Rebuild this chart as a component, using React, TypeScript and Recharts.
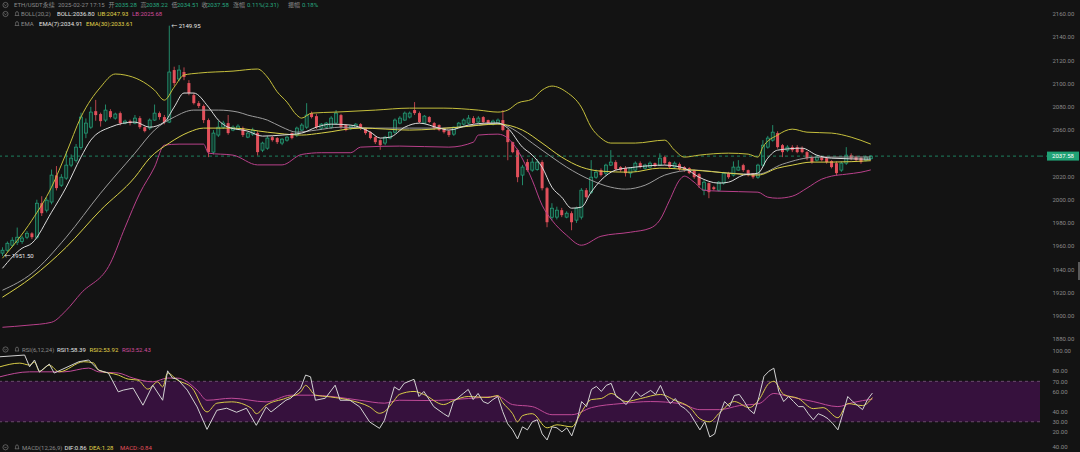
import React from 'react';
import { ComposedChart, Bar, Line, XAxis, YAxis, ReferenceLine, ReferenceArea, ReferenceDot } from 'recharts';

// ---------- DATA ----------
// candles: [open, high, low, close]
const candles: [number, number, number, number][] = [
  [1954.0, 1959.0, 1951.5, 1956.5], [1956.5, 1964.0, 1955.0, 1962.5], [1960.8, 1967.7, 1959.0, 1965.1], [1963.4, 1976.0, 1961.0, 1967.7],
  [1964.0, 1969.0, 1962.0, 1967.0], [1967.7, 1973.0, 1966.0, 1971.1], [1971.0, 1972.0, 1966.0, 1967.7], [1967.7, 2000.0, 1966.0, 1997.0],
  [1997.0, 2003.0, 1986.0, 1988.4], [1991.0, 2002.0, 1989.0, 1999.6], [1998.0, 2026.0, 1996.0, 2021.2], [2021.0, 2029.0, 2008.0, 2010.0],
  [2012.5, 2022.0, 2011.0, 2019.4], [2018.6, 2042.0, 2017.0, 2029.8], [2029.8, 2039.0, 2028.0, 2035.8], [2034.0, 2048.0, 2032.0, 2045.3],
  [2045.0, 2075.0, 2043.0, 2071.2], [2057.4, 2070.0, 2053.0, 2066.0], [2062.5, 2080.0, 2061.0, 2075.5], [2076.3, 2086.0, 2068.0, 2072.9],
  [2073.8, 2075.0, 2063.0, 2067.7], [2068.6, 2082.0, 2067.0, 2077.2], [2076.3, 2078.0, 2070.0, 2071.2], [2070.3, 2075.0, 2069.0, 2073.8],
  [2074.6, 2076.0, 2064.0, 2066.0], [2066.0, 2069.0, 2065.0, 2067.7], [2067.7, 2069.0, 2064.0, 2066.0], [2066.0, 2073.0, 2065.0, 2070.3],
  [2070.3, 2072.0, 2061.0, 2062.5], [2062.5, 2063.0, 2058.0, 2059.1], [2061.7, 2070.0, 2060.0, 2068.6], [2068.6, 2082.0, 2068.0, 2074.6],
  [2074.6, 2076.0, 2069.0, 2071.2], [2071.2, 2073.0, 2065.0, 2066.9], [2066.9, 2149.95, 2066.0, 2110.0], [2111.7, 2114.6, 2098.0, 2100.5],
  [2104.0, 2116.0, 2102.0, 2111.7], [2110.0, 2114.0, 2103.0, 2105.7], [2100.5, 2103.0, 2090.0, 2091.9], [2090.1, 2092.0, 2082.0, 2083.2],
  [2083.2, 2085.0, 2079.0, 2080.7], [2080.7, 2082.0, 2066.0, 2068.6], [2068.6, 2070.0, 2036.7, 2041.0], [2041.0, 2060.0, 2039.0, 2057.4],
  [2055.7, 2068.0, 2054.0, 2062.5], [2062.5, 2068.0, 2061.0, 2066.0], [2066.0, 2073.0, 2056.0, 2057.4], [2060.0, 2064.0, 2059.0, 2062.5],
  [2060.8, 2065.0, 2060.0, 2063.4], [2061.7, 2063.0, 2054.0, 2055.7], [2053.9, 2059.0, 2053.0, 2057.4], [2056.5, 2062.0, 2055.0, 2060.0],
  [2057.4, 2059.0, 2038.0, 2041.0], [2042.7, 2050.0, 2041.0, 2048.8], [2044.4, 2055.0, 2043.0, 2053.1], [2053.9, 2055.0, 2050.0, 2051.3],
  [2053.1, 2054.0, 2048.0, 2049.6], [2048.8, 2053.0, 2047.0, 2052.2], [2051.3, 2055.0, 2050.0, 2053.9], [2057.4, 2058.0, 2052.0, 2053.1],
  [2055.7, 2063.0, 2054.0, 2061.7], [2060.0, 2066.0, 2059.0, 2064.3], [2062.5, 2083.2, 2061.0, 2072.9], [2074.6, 2076.0, 2070.0, 2071.2],
  [2072.0, 2074.0, 2061.0, 2062.5], [2061.7, 2066.0, 2060.0, 2065.1], [2062.5, 2067.0, 2061.0, 2066.0], [2062.5, 2072.0, 2061.0, 2070.3],
  [2066.0, 2077.2, 2065.0, 2074.6], [2072.9, 2074.0, 2061.0, 2062.5], [2064.3, 2065.0, 2059.0, 2060.0], [2061.7, 2064.0, 2060.0, 2063.4],
  [2061.7, 2066.0, 2061.0, 2065.1], [2065.1, 2066.0, 2060.0, 2061.7], [2061.7, 2062.0, 2056.0, 2057.4], [2058.2, 2059.0, 2052.0, 2053.1],
  [2053.9, 2055.0, 2048.0, 2049.6], [2051.3, 2052.0, 2043.0, 2047.0], [2048.8, 2055.0, 2047.0, 2053.9], [2053.1, 2059.0, 2052.0, 2058.2],
  [2058.2, 2070.0, 2057.0, 2068.6], [2066.0, 2072.0, 2065.0, 2070.3], [2068.6, 2076.0, 2068.0, 2074.6], [2071.2, 2076.0, 2070.0, 2074.6],
  [2077.2, 2084.1, 2073.0, 2074.6], [2074.6, 2076.0, 2066.0, 2066.9], [2066.0, 2073.0, 2065.0, 2072.0], [2071.2, 2072.0, 2066.0, 2066.9],
  [2066.0, 2067.0, 2060.0, 2061.7], [2064.3, 2065.0, 2059.0, 2060.0], [2061.7, 2062.0, 2057.0, 2058.2], [2059.1, 2060.0, 2054.0, 2055.7],
  [2056.5, 2063.0, 2055.0, 2062.5], [2062.5, 2067.0, 2062.0, 2066.0], [2065.1, 2070.0, 2064.0, 2068.6], [2066.0, 2073.0, 2065.0, 2070.3],
  [2070.3, 2072.0, 2065.0, 2066.0], [2066.9, 2072.0, 2066.0, 2070.3], [2071.2, 2072.0, 2065.0, 2066.9], [2068.6, 2069.0, 2065.0, 2066.0],
  [2065.1, 2069.0, 2064.0, 2067.7], [2066.0, 2070.0, 2065.0, 2068.6], [2068.6, 2077.2, 2059.0, 2060.0], [2060.0, 2061.0, 2034.0, 2049.6],
  [2049.6, 2050.0, 2040.0, 2041.0], [2042.7, 2044.0, 2015.1, 2019.4], [2021.2, 2030.0, 2012.5, 2028.1], [2032.4, 2035.0, 2024.0, 2025.5],
  [2025.5, 2036.0, 2024.0, 2032.4], [2026.0, 2035.0, 2025.0, 2032.4], [2032.4, 2034.0, 2008.0, 2009.9], [2009.9, 2011.0, 1976.3, 1980.6],
  [1984.9, 1997.0, 1982.0, 1992.7], [1985.0, 1994.0, 1983.0, 1991.0], [1991.0, 1993.0, 1985.0, 1986.7], [1985.0, 1990.0, 1984.0, 1988.4],
  [1988.4, 1990.0, 1973.7, 1980.6], [1982.4, 1994.0, 1980.0, 1992.7], [1985.0, 2010.0, 1983.0, 2008.2], [2008.2, 2010.0, 2001.0, 2002.2],
  [2006.5, 2034.1, 2005.0, 2019.4], [2019.4, 2026.0, 2018.0, 2023.7], [2025.5, 2027.0, 2020.0, 2021.2], [2022.9, 2031.0, 2021.0, 2029.8],
  [2029.8, 2042.7, 2029.0, 2032.4], [2032.4, 2034.0, 2025.0, 2026.3], [2028.1, 2029.0, 2024.0, 2025.5], [2027.2, 2029.0, 2020.0, 2022.9],
  [2022.9, 2028.0, 2019.0, 2027.2], [2025.5, 2033.0, 2024.0, 2031.5], [2031.5, 2033.0, 2027.0, 2028.1], [2027.2, 2031.0, 2026.0, 2029.8],
  [2028.1, 2033.0, 2027.0, 2031.5], [2031.5, 2032.0, 2028.0, 2029.0], [2029.8, 2040.0, 2029.0, 2035.8], [2036.7, 2038.0, 2030.0, 2031.5],
  [2032.4, 2033.0, 2027.0, 2028.1], [2028.1, 2033.0, 2027.0, 2031.5], [2030.6, 2032.0, 2025.0, 2026.3], [2028.1, 2029.0, 2024.0, 2025.5],
  [2027.2, 2028.0, 2022.0, 2022.9], [2025.5, 2026.0, 2018.0, 2019.4], [2022.0, 2023.0, 2010.0, 2012.5], [2008.2, 2017.0, 2003.9, 2015.1],
  [2014.3, 2015.0, 2001.3, 2006.5], [2010.8, 2012.0, 2008.0, 2009.1], [2008.2, 2016.0, 2007.0, 2015.1], [2014.3, 2024.0, 2013.0, 2022.9],
  [2022.9, 2024.0, 2018.0, 2019.4], [2021.2, 2033.0, 2020.0, 2028.1], [2025.5, 2034.1, 2025.0, 2028.1], [2029.8, 2031.0, 2024.0, 2025.5],
  [2025.5, 2026.0, 2020.0, 2021.2], [2022.9, 2023.0, 2018.0, 2019.4], [2019.4, 2031.0, 2018.0, 2029.8], [2029.8, 2051.3, 2028.0, 2047.0],
  [2045.3, 2055.0, 2044.0, 2053.1], [2051.3, 2064.3, 2050.0, 2058.2], [2057.4, 2059.0, 2044.0, 2045.3], [2047.0, 2048.0, 2036.7, 2041.0],
  [2042.7, 2047.0, 2041.0, 2045.3], [2045.3, 2047.0, 2041.0, 2042.7], [2045.3, 2047.0, 2040.0, 2041.0], [2044.4, 2046.0, 2040.0, 2041.0],
  [2041.0, 2042.0, 2034.0, 2035.8], [2036.7, 2038.0, 2031.0, 2032.4], [2034.1, 2038.0, 2033.0, 2036.7], [2036.7, 2038.0, 2033.0, 2034.1],
  [2035.8, 2037.0, 2031.0, 2032.4], [2033.3, 2034.0, 2027.0, 2028.1], [2031.5, 2033.0, 2021.0, 2022.9], [2025.5, 2033.0, 2024.0, 2031.5],
  [2031.5, 2045.3, 2030.0, 2038.4], [2038.4, 2040.0, 2034.0, 2035.8], [2036.7, 2038.0, 2033.0, 2034.1], [2035.8, 2037.0, 2031.0, 2032.4],
  [2034.1, 2038.0, 2033.0, 2036.7], [2035.28, 2038.22, 2034.51, 2037.58],
];

// indicator readings: [candle index, value]
const bollUpper: [number, number][] = [
  [0, 1949.6], [6, 1982.3], [10, 2010.8], [13, 2040.1], [16, 2071.2], [20, 2097.0], [23, 2108.3], [25, 2107.4], [28, 2103.1],
  [31, 2094.4], [33, 2085.8], [35, 2097.0], [37, 2107.4], [40, 2109.1], [47, 2110.8], [52, 2112.6], [54, 2105.7], [56, 2093.0],
  [58, 2084.1], [60, 2072.9], [61, 2070.3], [63, 2074.6], [68, 2075.5], [76, 2077.2], [83, 2078.9], [90, 2078.9], [97, 2077.2],
  [101, 2075.5], [103, 2077.2], [105, 2083.2], [108, 2086.7], [110, 2094.4], [112, 2097.9], [115, 2092.7], [118, 2079.8],
  [120, 2062.5], [122, 2053.1], [124, 2048.8], [129, 2048.8], [135, 2051.3], [137, 2042.7], [139, 2036.7], [142, 2038.4],
  [148, 2040.1], [152, 2039.3], [154, 2036.7], [155, 2045.3], [158, 2055.7], [161, 2060.8], [164, 2058.2], [169, 2057.4],
  [173, 2053.9], [177, 2047.93],
];
const bollLower: [number, number][] = [
  [0, 1890.1], [5, 1891.8], [10, 1894.4], [13, 1904.7], [16, 1919.4], [22, 1945.3], [25, 1976.3], [28, 2005.6], [31, 2028.1],
  [33, 2047.0], [36, 2047.9], [41, 2047.9], [42, 2040.1], [47, 2038.4], [52, 2030.0], [57, 2030.0], [61, 2039.0], [65, 2040.5],
  [71, 2040.5], [73, 2045.3], [81, 2046.2], [91, 2045.3], [96, 2049.6], [97, 2055.7], [101, 2056.5], [103, 2053.1], [105, 2042.7],
  [108, 2016.8], [110, 1995.3], [112, 1982.4], [115, 1969.4], [118, 1960.8], [122, 1968.5], [128, 1972.0], [132, 1975.4],
  [134, 1982.4], [136, 1999.6], [138, 2016.8], [139, 2020.3], [141, 2015.1], [143, 2008.2], [146, 2007.4], [154, 2006.5],
  [156, 2002.2], [158, 2001.3], [161, 2003.0], [164, 2010.0], [167, 2017.7], [169, 2020.3], [172, 2022.0], [175, 2023.7],
  [177, 2025.68],
];
const bollMid: [number, number][] = [
  [0, 1922.0], [6, 1936.6], [13, 1967.7], [20, 2005.6], [27, 2040.1], [31, 2060.0], [35, 2071.2], [39, 2077.2], [44, 2077.2],
  [48, 2075.5], [50, 2072.9], [54, 2068.6], [57, 2062.5], [60, 2058.2], [64, 2060.0], [69, 2062.5], [76, 2061.7], [83, 2061.7],
  [90, 2061.7], [97, 2064.3], [101, 2066.0], [104, 2061.0], [108, 2048.8], [112, 2036.7], [115, 2028.1], [120, 2016.8],
  [124, 2010.8], [127, 2009.1], [131, 2012.5], [135, 2021.2], [141, 2025.5], [148, 2022.9], [154, 2022.0], [159, 2030.6],
  [166, 2036.7], [177, 2036.8],
];
const ema7: [number, number][] = [
  [0, 1940.9], [4, 1958.2], [6, 1962.5], [10, 1989.2], [13, 2010.8], [16, 2036.7], [18, 2051.3], [22, 2062.5], [27, 2066.9],
  [30, 2062.5], [33, 2066.9], [35, 2079.8], [37, 2091.9], [39, 2091.9], [42, 2079.8], [44, 2068.6], [46, 2062.5], [50, 2059.1],
  [53, 2054.8], [57, 2055.7], [61, 2057.4], [64, 2062.5], [67, 2065.1], [71, 2064.3], [75, 2058.2], [77, 2053.1], [79, 2053.9],
  [82, 2062.5], [85, 2066.0], [89, 2061.7], [91, 2060.0], [95, 2064.3], [99, 2066.0], [101, 2066.0], [103, 2061.7], [106, 2045.3],
  [108, 2038.4], [110, 2028.1], [112, 2010.8], [114, 2002.2], [116, 1992.7], [118, 1993.6], [120, 2006.5], [122, 2016.8],
  [125, 2025.5], [129, 2028.1], [135, 2029.8], [139, 2027.2], [142, 2019.4], [146, 2014.3], [148, 2015.1], [151, 2021.2],
  [154, 2022.9], [156, 2035.8], [158, 2042.7], [163, 2044.4], [166, 2038.4], [169, 2035.8], [177, 2034.91],
];
const ema30: [number, number][] = [
  [0, 1916.0], [6, 1933.2], [13, 1959.1], [20, 1991.0], [27, 2019.4], [30, 2035.8], [34, 2048.8], [38, 2058.2], [41, 2061.7],
  [47, 2061.7], [54, 2058.2], [61, 2055.7], [65, 2057.4], [73, 2061.7], [83, 2060.0], [93, 2062.5], [101, 2065.1], [106, 2060.0],
  [110, 2048.8], [114, 2036.7], [118, 2028.1], [122, 2024.6], [128, 2023.7], [134, 2027.2], [141, 2025.5], [148, 2022.9],
  [154, 2021.2], [158, 2027.2], [161, 2029.8], [165, 2032.4], [169, 2032.4], [177, 2033.61],
];
const rsi1: [number, number][] = [
  [0, 94.3], [5, 96.0], [6, 84.4], [7, 91.1], [8, 79.1], [10, 87.1], [11, 78.2], [16, 89.4], [18, 91.1], [20, 81.1], [22, 78.2],
  [24, 59.6], [25, 61.3], [27, 63.3], [29, 46.4], [31, 66.2], [33, 51.3], [34, 80.4], [35, 73.2], [36, 72.2], [38, 61.3], [40, 44.7],
  [42, 22.5], [44, 41.4], [46, 43.4], [48, 39.4], [50, 43.4], [52, 26.5], [54, 44.7], [55, 39.7], [58, 51.3], [59, 53.3], [61, 63.3],
  [62, 76.2], [63, 74.5], [64, 51.3], [66, 53.3], [68, 66.2], [69, 51.3], [71, 51.3], [73, 44.7], [75, 29.8], [77, 23.5], [78, 31.5],
  [80, 64.5], [81, 61.3], [82, 68], [84, 72], [85, 55], [86, 60], [88, 45], [90, 38], [91, 35], [92, 50], [94, 58], [95, 62], [96, 52],
  [97, 58], [98, 50], [99, 48], [100, 52], [101, 55], [102, 40], [103, 28], [104, 22], [105, 13], [106, 25], [107, 22], [108, 30],
  [109, 32], [110, 18], [111, 12], [112, 25], [113, 24], [114, 20], [115, 24], [116, 16], [117, 30], [118, 50], [119, 45], [120, 62],
  [121, 65], [122, 60], [123, 66], [124, 68], [125, 55], [126, 52], [127, 47], [128, 53], [129, 60], [130, 55], [131, 58], [132, 61],
  [133, 57], [134, 66], [135, 55], [136, 48], [137, 53], [138, 46], [139, 43], [140, 38], [141, 30], [142, 22], [143, 30], [144, 15],
  [145, 18], [146, 37], [147, 50], [148, 45], [149, 56], [150, 57], [151, 50], [152, 42], [153, 38], [154, 55], [155, 75], [156, 80],
  [157, 83], [158, 60], [159, 50], [160, 55], [161, 50], [162, 45], [163, 45], [164, 38], [165, 32], [166, 38], [167, 36], [168, 33],
  [169, 28], [170, 22], [171, 38], [172, 55], [173, 50], [174, 46], [175, 42], [176, 52], [177, 58.39],
];
const rsi2: [number, number][] = [
  [0, 84.4], [4, 88.0], [6, 86.1], [7, 89.0], [8, 80.0], [10, 86.0], [12, 79.4], [17, 89.4], [19, 88.1], [20, 81.1], [24, 76.2],
  [26, 72.2], [28, 71.2], [30, 62.3], [32, 69.5], [33, 64.5], [34, 78.2], [36, 71.2], [39, 63.3], [42, 39.7], [44, 48.4], [47, 49.7],
  [51, 43.4], [52, 38], [54, 46.4], [58, 53.3], [61, 59.6], [62, 66], [64, 56.3], [67, 54.6], [71, 51.3], [75, 44.7], [77, 38.4],
  [78, 40], [80, 51.3], [81, 57], [84, 60], [86, 57], [90, 47], [92, 51], [95, 55], [99, 54], [101, 56], [102, 49], [104, 38],
  [105, 30], [106, 36], [108, 38], [111, 24], [113, 27], [116, 25], [118, 40], [120, 52], [122, 53], [124, 58], [127, 50], [130, 53],
  [134, 57], [137, 51], [140, 44], [142, 33], [144, 30], [146, 39], [149, 50], [152, 44], [154, 52], [156, 68], [157, 70], [159, 57],
  [162, 53], [165, 43], [167, 44], [170, 34], [172, 48], [175, 46], [177, 53.92],
];
const rsi3: [number, number][] = [
  [0, 74.5], [6, 79.4], [13, 79.4], [18, 83.1], [20, 79.4], [24, 78.2], [27, 73.2], [31, 69.5], [34, 73.2], [36, 73.2], [40, 61.3],
  [42, 51.3], [47, 53.3], [54, 49.7], [59, 56.3], [63, 56.3], [68, 54.6], [73, 51.3], [78, 48.4], [81, 51.3], [87, 51], [95, 53],
  [101, 55], [104, 47], [108, 45], [112, 37], [116, 37], [120, 44], [126, 48], [132, 50], [138, 48], [142, 42], [146, 42], [150, 46],
  [154, 48], [157, 58], [160, 55], [165, 50], [170, 45], [173, 49], [177, 52.43],
];

// 2040 is hidden behind the last-price tag in the reference
const priceTicks = [1880, 1900, 1920, 1940, 1960, 1980, 2000, 2020, 2060, 2080, 2100, 2120, 2140, 2160];
const rsiTicks = [20, 30, 40, 60, 70, 80, 100];
const lastPrice = 2037.58;
const highMark = 2149.95;
const lowMark = 1951.5;
const SLOTS = 212;

// ---------- STYLE ----------
const BG = '#131313';
const UP = '#27a77f';
const DOWN = '#e2505b';
const GRAY = '#8a8a8a';
const WHITE = '#e4e4e4';
const YELLOW = '#e0d34a';
const MAGENTA = '#d04c9c';
const FONT = "Roboto, 'Noto Sans CJK SC', sans-serif";

const toMap = (pts: [number, number][]) => new Map(pts.map(([i, v]) => [i, v] as [number, number]));
const mUb = toMap(bollUpper), mLb = toMap(bollLower), mMid = toMap(bollMid), mE7 = toMap(ema7), mE30 = toMap(ema30);
const mR1 = toMap(rsi1), mR2 = toMap(rsi2), mR3 = toMap(rsi3);

const priceData = Array.from({ length: SLOTS }, (_, i) => {
  const k = candles[i];
  return {
    i,
    o: k ? k[0] : undefined,
    h: k ? k[1] : undefined,
    l: k ? k[2] : undefined,
    c: k ? k[3] : undefined,
    range: k ? [k[2], k[1]] : undefined,
    ub: mUb.get(i), lb: mLb.get(i), mid: mMid.get(i), e7: mE7.get(i), e30: mE30.get(i),
  };
});
const rsiData = Array.from({ length: SLOTS }, (_, i) => ({ i, r1: mR1.get(i), r2: mR2.get(i), r3: mR3.get(i) }));

function CandleShape(props: any) {
  const { x, y, width, height, payload } = props;
  if (!payload || payload.o == null || x == null || y == null) return null;
  const { o, h, l, c } = payload;
  const top = height < 0 ? y + height : y;
  const hh = Math.abs(height);
  const span = h - l;
  const k = span > 0 ? hh / span : 0;
  const yO = top + (h - o) * k;
  const yC = top + (h - c) * k;
  const up = c >= o;
  const color = up ? UP : DOWN;
  const bTop = Math.min(yO, yC);
  const bH = Math.max(Math.abs(yO - yC), 0.9);
  const cx = x + width / 2;
  return (
    <g>
      <line x1={cx} x2={cx} y1={top} y2={top + hh} stroke={color} strokeWidth={0.8} />
      <rect x={x} y={bTop} width={width} height={bH} fill={up ? '#12352a' : color} stroke={up ? color : 'none'} strokeWidth={0.7} />
    </g>
  );
}

const AxisTick = (props: any) => {
  const { x, y, payload } = props;
  return (
    <text x={x + 12.5} y={y} dy={2.2} fill={GRAY} fontSize={6} fontFamily={FONT} textAnchor="start">
      {Number(payload.value).toFixed(2)}
    </text>
  );
};

const PriceTag = (props: any) => {
  const vb = props.viewBox || {};
  const x = (vb.x || 0) + (vb.width || 0);
  const y = vb.y || 0;
  return (
    <g>
      <line x1={x} x2={x + 7} y1={y} y2={y} stroke="#1f9d72" strokeDasharray="3 3" strokeWidth={0.8} />
      <rect x={x + 7} y={y - 4.5} width={32} height={9} fill="#20a275" />
      <text x={x + 23} y={y} dy={2.2} fill="#ffffff" fontSize={6} fontFamily={FONT} textAnchor="middle">{lastPrice.toFixed(2)}</text>
    </g>
  );
};

const markLabel = (text: string) => (props: any) => {
  const vb = props.viewBox || {};
  const x = vb.cx != null ? vb.cx : (vb.x || 0);
  const y = vb.cy != null ? vb.cy : (vb.y || 0);
  return (
    <text x={x + 2} y={y} dy={2.2} fill="#e8e8e8" fontSize={6} fontFamily={FONT} textAnchor="start">{text}</text>
  );
};

function Icon({ x, y }: { x: number; y: number }) {
  return (
    <g stroke={GRAY} strokeWidth={0.6} fill="none">
      <circle cx={x} cy={y} r={2.6} />
      <path d={`M${x - 1.2} ${y - 0.5} L${x} ${y + 0.7} L${x + 1.2} ${y - 0.5}`} />
    </g>
  );
}
function Bell({ x, y }: { x: number; y: number }) {
  return (
    <g stroke={GRAY} strokeWidth={0.6} fill="none">
      <path d={`M${x - 2} ${y + 1.5} L${x + 2} ${y + 1.5} L${x + 1.4} ${y + 0.7} L${x + 1.4} ${y - 0.7} Q${x + 1.4} ${y - 2.4} ${x} ${y - 2.4} Q${x - 1.4} ${y - 2.4} ${x - 1.4} ${y - 0.7} L${x - 1.4} ${y + 0.7} Z`} />
    </g>
  );
}
function T({ x, y, c, s }: { x: number; y: number; c: string; s: string }) {
  return <text x={x} y={y} dy={2.2} fill={c} fontSize={6} fontFamily={FONT}>{s}</text>;
}

export default function App() {
  return (
    <div style={{ position: 'absolute', left: 0, top: 0, width: 1080, height: 452, background: BG, overflow: 'hidden' }}>
      <div style={{ position: 'absolute', left: 0, top: 0 }}>
        <ComposedChart width={1080} height={345} data={priceData} margin={{ top: 14, right: 0, bottom: 6, left: 0 }}>
          <XAxis dataKey="i" type="category" hide />
          <YAxis orientation="right" width={40} domain={[1880, 2160]} ticks={priceTicks} allowDataOverflow
            axisLine={false} tickLine={false} tickSize={0} tickMargin={0} tick={<AxisTick />} interval={0} />
          <ReferenceLine y={lastPrice} stroke="#1f9d72" strokeDasharray="3 3" strokeWidth={0.8} label={<PriceTag />} />
          <Bar dataKey="range" barSize={3} isAnimationActive={false} shape={(p: any) => <CandleShape {...p} />} />
          <Line dataKey="lb" stroke="#b8408a" strokeWidth={1} dot={false} activeDot={false} connectNulls type="monotone" isAnimationActive={false} />
          <Line dataKey="ub" stroke="#c5bf3c" strokeWidth={1} dot={false} activeDot={false} connectNulls type="monotone" isAnimationActive={false} />
          <Line dataKey="mid" stroke="#9c9c9c" strokeWidth={1} dot={false} activeDot={false} connectNulls type="monotone" isAnimationActive={false} />
          <Line dataKey="e30" stroke="#d8d048" strokeWidth={1} dot={false} activeDot={false} connectNulls type="monotone" isAnimationActive={false} />
          <Line dataKey="e7" stroke="#dcdcdc" strokeWidth={1} dot={false} activeDot={false} connectNulls type="monotone" isAnimationActive={false} />
          <ReferenceDot x={34} y={highMark} r={0} fill="none" stroke="none" label={markLabel('← ' + highMark.toFixed(2))} />
          <ReferenceDot x={0} y={lowMark} r={0} fill="none" stroke="none" label={markLabel('← ' + lowMark.toFixed(2))} />
        </ComposedChart>
      </div>
      <div style={{ position: 'absolute', left: 0, top: 345 }}>
        <ComposedChart width={1080} height={107} data={rsiData} margin={{ top: 6, right: 0, bottom: 10, left: 0 }}>
          <XAxis dataKey="i" type="category" hide />
          <YAxis orientation="right" width={40} domain={[10, 100]} ticks={rsiTicks} allowDataOverflow
            axisLine={false} tickLine={false} tickSize={0} tickMargin={0} tick={<AxisTick />} interval={0} />
          <ReferenceArea y1={30} y2={70} fill="#36113d" fillOpacity={1} stroke="none" />
          <ReferenceLine y={70} stroke="#7a5a7c" strokeDasharray="3 3" strokeWidth={0.8} />
          <ReferenceLine y={30} stroke="#7a5a7c" strokeDasharray="3 3" strokeWidth={0.8} />
          <Line dataKey="r3" stroke="#c04a98" strokeWidth={1} dot={false} activeDot={false} connectNulls type="monotone" isAnimationActive={false} />
          <Line dataKey="r2" stroke="#d8cc48" strokeWidth={1} dot={false} activeDot={false} connectNulls type="monotone" isAnimationActive={false} />
          <Line dataKey="r1" stroke="#d2d2d2" strokeWidth={1} dot={false} activeDot={false} connectNulls type="linear" isAnimationActive={false} />
        </ComposedChart>
      </div>
      <svg width={1080} height={452} style={{ position: 'absolute', left: 0, top: 0, pointerEvents: 'none' }}>
        <Icon x={5.5} y={5} />
        <T x={14} y={5} c={GRAY} s="ETH/USDT永续" />
        <T x={58} y={5} c={GRAY} s="2025-02-27 17:15" />
        <T x={108.5} y={5} c={GRAY} s="开" />
        <T x={115} y={5} c={UP} s="2035.28" />
        <T x={140.5} y={5} c={GRAY} s="高" />
        <T x={146} y={5} c={UP} s="2038.22" />
        <T x={171.5} y={5} c={GRAY} s="低" />
        <T x={177} y={5} c={UP} s="2034.51" />
        <T x={201.5} y={5} c={GRAY} s="收" />
        <T x={207} y={5} c={UP} s="2037.58" />
        <T x={233} y={5} c={GRAY} s="涨幅" />
        <T x={247} y={5} c={UP} s="0.11%(2.31)" />
        <T x={288} y={5} c={GRAY} s="振幅" />
        <T x={302} y={5} c={UP} s="0.18%" />

        <Icon x={5.5} y={14} />
        <Bell x={17} y={14} />
        <T x={21} y={14} c={GRAY} s="BOLL(20,2)" />
        <T x={57} y={14} c={WHITE} s="BOLL:2036.80" />
        <T x={97.5} y={14} c={YELLOW} s="UB:2047.93" />
        <T x={132} y={14} c={MAGENTA} s="LB:2025.68" />

        <Bell x={17} y={24} />
        <T x={21} y={24} c={GRAY} s="EMA" />
        <T x={39} y={24} c={WHITE} s="EMA(7):2034.91" />
        <T x={86} y={24} c={YELLOW} s="EMA(30):2033.61" />

        <Icon x={5.5} y={349.5} />
        <Bell x={17} y={349.5} />
        <T x={22} y={349.5} c={GRAY} s="RSI(6,12,24)" />
        <T x={57} y={349.5} c={WHITE} s="RSI1:58.39" />
        <T x={89.5} y={349.5} c={YELLOW} s="RSI2:53.92" />
        <T x={122} y={349.5} c={MAGENTA} s="RSI3:52.43" />

        <Icon x={5.5} y={447.3} />
        <Bell x={17} y={447.3} />
        <T x={22} y={447.3} c={GRAY} s="MACD(12,26,9)" />
        <T x={64.5} y={447.3} c={WHITE} s="DIF:0.86" />
        <T x={89} y={447.3} c={YELLOW} s="DEA:1.28" />
        <T x={120} y={447.3} c={DOWN} s="MACD:-0.84" />
        <T x={1052.5} y={447} c={GRAY} s="40.00" />
        <rect x={1078} y={262} width={2} height={18} fill="#5a5a5a" />
      </svg>
    </div>
  );
}
